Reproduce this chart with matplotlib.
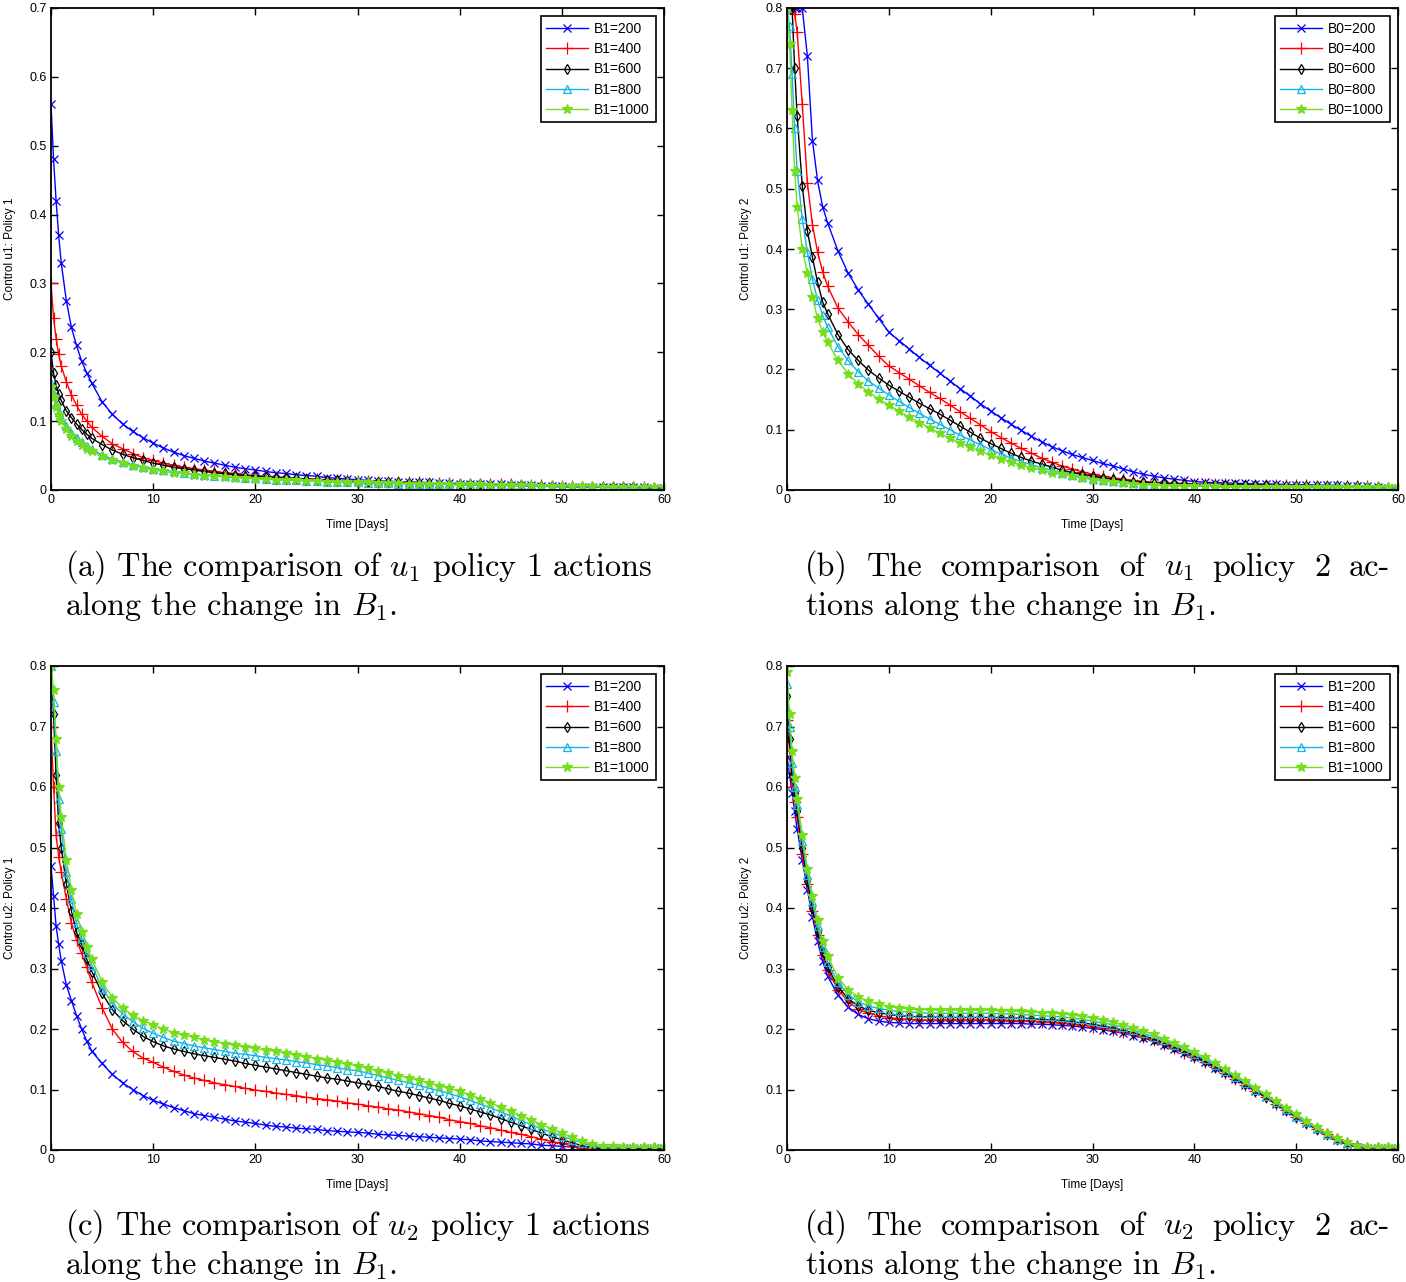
#!/usr/bin/env python3

import matplotlib
matplotlib.use("Agg")
import matplotlib.pyplot as plt
import numpy as np

W, H = 1406, 1282

plt.rcParams["font.family"] = ["Liberation Sans", "DejaVu Sans"]
plt.rcParams["mathtext.fontset"] = "cm"

# time grid [days], denser at the start
tDays = [0, 0.25, 0.5, 0.75, 1, 1.5, 2, 2.5, 3, 3.5, 4,
  5, 6, 7, 8, 9, 10, 11, 12, 13, 14,
  15, 16, 17, 18, 19, 20, 21, 22, 23, 24,
  25, 26, 27, 28, 29, 30, 31, 32, 33, 34,
  35, 36, 37, 38, 39, 40, 41, 42, 43, 44,
  45, 46, 47, 48, 49, 50, 51, 52, 53, 54,
  55, 56, 57, 58, 59, 60]

# (a) control u1, policy 1
u1Pol1B200 = [0.56, 0.48, 0.42, 0.37, 0.33, 0.275, 0.236, 0.21, 0.187, 0.17, 0.155,
  0.128, 0.110, 0.096, 0.085, 0.076, 0.068, 0.061, 0.055, 0.050, 0.046,
  0.042, 0.039, 0.036, 0.033, 0.031, 0.029, 0.027, 0.025, 0.024, 0.022,
  0.021, 0.020, 0.018, 0.017, 0.016, 0.015, 0.014, 0.013, 0.013, 0.012,
  0.012, 0.011, 0.011, 0.010, 0.010, 0.009, 0.009, 0.008, 0.008, 0.008,
  0.007, 0.007, 0.007, 0.006, 0.006, 0.006, 0.005, 0.005, 0.005, 0.005,
  0.004, 0.004, 0.004, 0.004, 0.003, 0.003]
u1Pol1B400 = [0.30, 0.25, 0.22, 0.197, 0.18, 0.157, 0.138, 0.123, 0.11, 0.10, 0.091,
  0.078, 0.067, 0.060, 0.053, 0.047, 0.043, 0.039, 0.036, 0.033, 0.031,
  0.029, 0.027, 0.025, 0.024, 0.022, 0.021, 0.020, 0.019, 0.018, 0.017,
  0.016, 0.016, 0.015, 0.014, 0.014, 0.013, 0.013, 0.012, 0.012, 0.011,
  0.011, 0.011, 0.010, 0.010, 0.010, 0.009, 0.009, 0.009, 0.008, 0.008,
  0.008, 0.007, 0.007, 0.007, 0.006, 0.006, 0.006, 0.005, 0.005, 0.005,
  0.005, 0.004, 0.004, 0.004, 0.003, 0.003]
u1Pol1B600 = [0.20, 0.17, 0.152, 0.14, 0.13, 0.115, 0.105, 0.096, 0.088, 0.081, 0.075,
  0.066, 0.058, 0.052, 0.047, 0.043, 0.039, 0.036, 0.033, 0.031, 0.029,
  0.027, 0.025, 0.024, 0.022, 0.021, 0.020, 0.019, 0.018, 0.017, 0.017,
  0.016, 0.015, 0.014, 0.014, 0.013, 0.012, 0.012, 0.011, 0.011, 0.011,
  0.010, 0.010, 0.010, 0.009, 0.009, 0.008, 0.008, 0.008, 0.007, 0.007,
  0.007, 0.007, 0.006, 0.006, 0.006, 0.005, 0.005, 0.005, 0.005, 0.004,
  0.004, 0.004, 0.004, 0.003, 0.003, 0.003]
u1Pol1B800 = [0.155, 0.14, 0.125, 0.114, 0.105, 0.093, 0.083, 0.075, 0.069, 0.064, 0.059,
  0.051, 0.045, 0.041, 0.037, 0.034, 0.031, 0.029, 0.027, 0.025, 0.023,
  0.022, 0.021, 0.020, 0.019, 0.018, 0.017, 0.016, 0.015, 0.015, 0.014,
  0.013, 0.013, 0.012, 0.012, 0.011, 0.011, 0.010, 0.010, 0.010, 0.009,
  0.009, 0.009, 0.008, 0.008, 0.008, 0.007, 0.007, 0.007, 0.006, 0.006,
  0.006, 0.006, 0.005, 0.005, 0.005, 0.004, 0.004, 0.004, 0.004, 0.004,
  0.003, 0.003, 0.003, 0.003, 0.003, 0.003]
u1Pol1B1000 = [0.15, 0.135, 0.12, 0.109, 0.10, 0.088, 0.078, 0.071, 0.065, 0.060, 0.056,
  0.049, 0.043, 0.039, 0.035, 0.032, 0.029, 0.027, 0.025, 0.024, 0.022,
  0.021, 0.020, 0.019, 0.018, 0.017, 0.016, 0.016, 0.015, 0.014, 0.014,
  0.013, 0.013, 0.012, 0.012, 0.011, 0.011, 0.011, 0.010, 0.010, 0.010,
  0.009, 0.009, 0.009, 0.009, 0.008, 0.008, 0.008, 0.008, 0.007, 0.007,
  0.007, 0.007, 0.007, 0.006, 0.006, 0.006, 0.006, 0.006, 0.006, 0.005,
  0.005, 0.005, 0.005, 0.005, 0.005, 0.005]

# (b) control u1, policy 2
u1Pol2B200 = [0.80, 0.80, 0.80, 0.80, 0.80, 0.80, 0.72, 0.58, 0.514, 0.47, 0.443,
  0.397, 0.360, 0.332, 0.308, 0.285, 0.262, 0.248, 0.234, 0.220, 0.207,
  0.194, 0.181, 0.168, 0.156, 0.143, 0.131, 0.120, 0.109, 0.099, 0.089,
  0.080, 0.072, 0.065, 0.059, 0.054, 0.049, 0.044, 0.040, 0.035, 0.030,
  0.026, 0.023, 0.020, 0.018, 0.016, 0.014, 0.013, 0.012, 0.012, 0.011,
  0.011, 0.010, 0.010, 0.010, 0.009, 0.009, 0.009, 0.008, 0.008, 0.008,
  0.007, 0.007, 0.006, 0.005, 0.004, 0.003]
u1Pol2B400 = [0.80, 0.80, 0.80, 0.79, 0.76, 0.64, 0.51, 0.44, 0.395, 0.362, 0.338,
  0.302, 0.279, 0.258, 0.240, 0.222, 0.206, 0.195, 0.184, 0.173, 0.162,
  0.152, 0.141, 0.130, 0.119, 0.108, 0.097, 0.087, 0.078, 0.069, 0.061,
  0.053, 0.046, 0.040, 0.035, 0.030, 0.026, 0.023, 0.020, 0.018, 0.016,
  0.014, 0.013, 0.012, 0.011, 0.011, 0.010, 0.010, 0.010, 0.010, 0.009,
  0.009, 0.009, 0.009, 0.008, 0.008, 0.008, 0.008, 0.007, 0.007, 0.007,
  0.007, 0.007, 0.006, 0.005, 0.004, 0.003]
u1Pol2B600 = [0.80, 0.80, 0.80, 0.70, 0.62, 0.505, 0.43, 0.386, 0.345, 0.312, 0.292,
  0.258, 0.233, 0.215, 0.199, 0.186, 0.174, 0.164, 0.154, 0.144, 0.135,
  0.126, 0.116, 0.106, 0.096, 0.086, 0.077, 0.069, 0.061, 0.054, 0.048,
  0.043, 0.038, 0.033, 0.029, 0.026, 0.023, 0.020, 0.018, 0.016, 0.014,
  0.013, 0.012, 0.011, 0.010, 0.010, 0.009, 0.009, 0.009, 0.008, 0.008,
  0.008, 0.008, 0.008, 0.007, 0.007, 0.007, 0.007, 0.007, 0.006, 0.006,
  0.006, 0.006, 0.005, 0.005, 0.004, 0.003]
u1Pol2B800 = [0.80, 0.77, 0.69, 0.60, 0.53, 0.45, 0.395, 0.35, 0.315, 0.29, 0.27,
  0.238, 0.215, 0.196, 0.181, 0.169, 0.158, 0.147, 0.137, 0.127, 0.118,
  0.109, 0.100, 0.091, 0.083, 0.075, 0.067, 0.060, 0.053, 0.047, 0.042,
  0.037, 0.033, 0.029, 0.025, 0.022, 0.019, 0.017, 0.015, 0.013, 0.011,
  0.010, 0.009, 0.008, 0.008, 0.007, 0.007, 0.007, 0.006, 0.006, 0.006,
  0.006, 0.005, 0.005, 0.005, 0.005, 0.005, 0.004, 0.004, 0.004, 0.004,
  0.004, 0.004, 0.003, 0.003, 0.003, 0.003]
u1Pol2B1000 = [0.80, 0.74, 0.63, 0.53, 0.47, 0.40, 0.36, 0.32, 0.285, 0.262, 0.245,
  0.215, 0.193, 0.176, 0.163, 0.151, 0.141, 0.131, 0.121, 0.112, 0.103,
  0.094, 0.086, 0.078, 0.071, 0.064, 0.058, 0.052, 0.046, 0.041, 0.037,
  0.033, 0.029, 0.026, 0.023, 0.020, 0.017, 0.015, 0.013, 0.011, 0.010,
  0.009, 0.008, 0.007, 0.007, 0.006, 0.006, 0.006, 0.006, 0.005, 0.005,
  0.005, 0.005, 0.005, 0.005, 0.005, 0.005, 0.005, 0.005, 0.005, 0.005,
  0.005, 0.005, 0.005, 0.005, 0.005, 0.005]

# (c) control u2, policy 1
u2Pol1B200 = [0.47, 0.42, 0.37, 0.34, 0.313, 0.273, 0.247, 0.222, 0.20, 0.18, 0.163,
  0.143, 0.125, 0.111, 0.100, 0.090, 0.082, 0.076, 0.070, 0.065, 0.060,
  0.057, 0.054, 0.051, 0.048, 0.046, 0.044, 0.041, 0.039, 0.038, 0.036,
  0.035, 0.034, 0.032, 0.031, 0.030, 0.029, 0.028, 0.026, 0.025, 0.024,
  0.023, 0.022, 0.021, 0.020, 0.019, 0.018, 0.017, 0.015, 0.014, 0.013,
  0.012, 0.011, 0.010, 0.008, 0.007, 0.006, 0.005, 0.004, 0.003, 0.003,
  0.003, 0.003, 0.003, 0.003, 0.003, 0.003]
u2Pol1B400 = [0.70, 0.60, 0.52, 0.485, 0.46, 0.415, 0.375, 0.347, 0.325, 0.302, 0.277,
  0.235, 0.200, 0.178, 0.163, 0.152, 0.145, 0.137, 0.130, 0.124, 0.119,
  0.115, 0.111, 0.108, 0.105, 0.102, 0.099, 0.097, 0.094, 0.092, 0.090,
  0.087, 0.085, 0.083, 0.081, 0.078, 0.076, 0.073, 0.071, 0.068, 0.066,
  0.063, 0.060, 0.057, 0.054, 0.050, 0.047, 0.044, 0.040, 0.037, 0.033,
  0.029, 0.026, 0.022, 0.018, 0.014, 0.011, 0.007, 0.004, 0.002, 0.001,
  0.000, 0.000, 0.001, 0.002, 0.003, 0.003]
u2Pol1B600 = [0.80, 0.72, 0.62, 0.54, 0.50, 0.44, 0.395, 0.36, 0.34, 0.315, 0.295,
  0.259, 0.232, 0.214, 0.200, 0.188, 0.179, 0.172, 0.167, 0.163, 0.159,
  0.156, 0.153, 0.150, 0.147, 0.143, 0.140, 0.137, 0.134, 0.131, 0.128,
  0.125, 0.122, 0.119, 0.117, 0.114, 0.111, 0.108, 0.105, 0.101, 0.097,
  0.094, 0.090, 0.086, 0.082, 0.077, 0.073, 0.068, 0.063, 0.058, 0.052,
  0.046, 0.040, 0.034, 0.028, 0.022, 0.017, 0.012, 0.007, 0.004, 0.002,
  0.002, 0.003, 0.003, 0.003, 0.003, 0.003]
u2Pol1B800 = [0.80, 0.74, 0.66, 0.58, 0.53, 0.46, 0.415, 0.375, 0.35, 0.325, 0.305,
  0.268, 0.242, 0.225, 0.212, 0.201, 0.193, 0.186, 0.180, 0.176, 0.172,
  0.169, 0.166, 0.163, 0.160, 0.158, 0.156, 0.153, 0.151, 0.149, 0.146,
  0.144, 0.141, 0.139, 0.136, 0.133, 0.131, 0.127, 0.123, 0.119, 0.115,
  0.111, 0.107, 0.102, 0.098, 0.093, 0.088, 0.082, 0.076, 0.070, 0.063,
  0.056, 0.049, 0.042, 0.035, 0.029, 0.023, 0.017, 0.012, 0.007, 0.004,
  0.003, 0.004, 0.004, 0.004, 0.004, 0.004]
u2Pol1B1000 = [0.80, 0.76, 0.68, 0.60, 0.55, 0.48, 0.43, 0.39, 0.36, 0.335, 0.315,
  0.278, 0.252, 0.235, 0.223, 0.214, 0.207, 0.200, 0.194, 0.190, 0.186,
  0.182, 0.179, 0.176, 0.173, 0.170, 0.168, 0.165, 0.163, 0.160, 0.157,
  0.154, 0.151, 0.148, 0.145, 0.142, 0.139, 0.135, 0.131, 0.127, 0.123,
  0.119, 0.115, 0.111, 0.106, 0.102, 0.097, 0.091, 0.085, 0.078, 0.071,
  0.064, 0.057, 0.050, 0.042, 0.035, 0.028, 0.021, 0.015, 0.010, 0.007,
  0.006, 0.005, 0.005, 0.005, 0.005, 0.005]

# (d) control u2, policy 2
u2Pol2B200 = [0.65, 0.62, 0.59, 0.56, 0.53, 0.48, 0.43, 0.385, 0.345, 0.312, 0.287,
  0.256, 0.236, 0.224, 0.217, 0.213, 0.211, 0.210, 0.209, 0.209, 0.209,
  0.209, 0.209, 0.209, 0.209, 0.209, 0.209, 0.209, 0.209, 0.209, 0.208,
  0.208, 0.207, 0.206, 0.205, 0.203, 0.201, 0.199, 0.196, 0.193, 0.189,
  0.185, 0.180, 0.174, 0.167, 0.160, 0.153, 0.145, 0.136, 0.127, 0.117,
  0.107, 0.097, 0.087, 0.076, 0.065, 0.054, 0.044, 0.034, 0.025, 0.017,
  0.010, 0.005, 0.003, 0.003, 0.003, 0.003]
u2Pol2B400 = [0.71, 0.66, 0.60, 0.575, 0.55, 0.49, 0.44, 0.395, 0.355, 0.322, 0.297,
  0.265, 0.245, 0.233, 0.226, 0.222, 0.219, 0.217, 0.216, 0.215, 0.215,
  0.215, 0.215, 0.215, 0.215, 0.215, 0.215, 0.215, 0.214, 0.214, 0.213,
  0.212, 0.211, 0.210, 0.208, 0.206, 0.204, 0.202, 0.199, 0.195, 0.191,
  0.186, 0.181, 0.175, 0.168, 0.161, 0.154, 0.146, 0.137, 0.128, 0.118,
  0.108, 0.098, 0.087, 0.076, 0.066, 0.055, 0.045, 0.035, 0.026, 0.018,
  0.011, 0.006, 0.004, 0.004, 0.004, 0.004]
u2Pol2B600 = [0.75, 0.68, 0.62, 0.59, 0.56, 0.50, 0.445, 0.40, 0.36, 0.327, 0.302,
  0.270, 0.250, 0.238, 0.231, 0.227, 0.224, 0.222, 0.221, 0.220, 0.220,
  0.219, 0.219, 0.219, 0.219, 0.219, 0.219, 0.219, 0.218, 0.218, 0.217,
  0.216, 0.215, 0.214, 0.212, 0.210, 0.208, 0.205, 0.202, 0.198, 0.194,
  0.189, 0.183, 0.177, 0.170, 0.163, 0.156, 0.147, 0.138, 0.129, 0.119,
  0.109, 0.098, 0.088, 0.077, 0.066, 0.055, 0.045, 0.035, 0.026, 0.018,
  0.011, 0.006, 0.004, 0.004, 0.004, 0.004]
u2Pol2B800 = [0.77, 0.70, 0.64, 0.60, 0.57, 0.51, 0.455, 0.41, 0.37, 0.335, 0.31,
  0.277, 0.257, 0.245, 0.238, 0.234, 0.231, 0.229, 0.228, 0.227, 0.226,
  0.226, 0.226, 0.226, 0.226, 0.226, 0.226, 0.225, 0.225, 0.224, 0.223,
  0.222, 0.221, 0.220, 0.218, 0.216, 0.213, 0.210, 0.207, 0.203, 0.198,
  0.193, 0.187, 0.181, 0.174, 0.167, 0.159, 0.150, 0.141, 0.131, 0.121,
  0.111, 0.100, 0.090, 0.079, 0.068, 0.057, 0.046, 0.036, 0.027, 0.019,
  0.012, 0.006, 0.004, 0.004, 0.004, 0.004]
u2Pol2B1000 = [0.79, 0.72, 0.66, 0.615, 0.58, 0.52, 0.465, 0.42, 0.38, 0.345, 0.32,
  0.285, 0.265, 0.253, 0.246, 0.241, 0.237, 0.235, 0.233, 0.232, 0.232,
  0.231, 0.231, 0.231, 0.231, 0.231, 0.231, 0.230, 0.230, 0.229, 0.228,
  0.227, 0.226, 0.225, 0.223, 0.221, 0.218, 0.215, 0.211, 0.207, 0.202,
  0.197, 0.191, 0.184, 0.177, 0.170, 0.162, 0.153, 0.144, 0.134, 0.124,
  0.114, 0.103, 0.092, 0.081, 0.070, 0.059, 0.048, 0.038, 0.028, 0.020,
  0.013, 0.007, 0.005, 0.005, 0.005, 0.005]

bValues = [200, 400, 600, 800, 1000]
xTicks = [0, 10, 20, 30, 40, 50, 60]
yTicks07 = [0, 0.1, 0.2, 0.3, 0.4, 0.5, 0.6, 0.7]
yTickLabels07 = ["0", "0.1", "0.2", "0.3", "0.4", "0.5", "0.6", "0.7"]
yTicks08 = [0, 0.1, 0.2, 0.3, 0.4, 0.5, 0.6, 0.7, 0.8]
yTickLabels08 = ["0", "0.1", "0.2", "0.3", "0.4", "0.5", "0.6", "0.7", "0.8"]

# matlab-ish line styles: color, marker, size, open face
styleList = [
  ("#0000ff", "x", 5.5, False),
  ("#ff0000", "+", 9, False),
  ("#000000", "d", 5, True),
  ("#12b5ea", "^", 5.5, True),
  ("#74dd1c", "*", 7, False),
]

tickSize = 9
labelSize = 8.5
legendSize = 10
captionSize = 23.2


def pxRect(left, top, right, bottom):
  return [left / W, 1 - bottom / H, (right - left) / W, (bottom - top) / H]


def plotPanel(fig, rect, seriesList, legendKey, yLabel, yTicks, yTickLabels):
  ax = fig.add_axes(rect)
  for vals, b, (color, marker, ms, hollow) in zip(seriesList, bValues, styleList):
    ax.plot(
      tDays, vals, color=color, marker=marker, markersize=ms, linewidth=1.0,
      markeredgewidth=0.9, markerfacecolor="none" if hollow else color,
      label=f"{legendKey}={b}",
    )

  ax.set_xlim(0, 60)
  ax.set_ylim(0, yTicks[-1])
  ax.set_xticks(xTicks, labels=[str(x) for x in xTicks])
  ax.set_yticks(yTicks, labels=yTickLabels)
  ax.tick_params(
    direction="in", top=True, right=True, length=5, width=1.0,
    labelsize=tickSize, pad=3,
  )
  for spine in ax.spines.values():
    spine.set_linewidth(1.3)

  ax.set_xlabel("Time [Days]", fontsize=labelSize, labelpad=9)
  ax.set_ylabel(yLabel, fontsize=labelSize, labelpad=10)

  leg = ax.legend(
    loc="upper right", fontsize=legendSize, fancybox=False, framealpha=1,
    edgecolor="black", borderaxespad=0.6, handlelength=3.0, numpoints=1,
    labelspacing=0.45, borderpad=0.4, handletextpad=0.45,
  )
  leg.get_frame().set_linewidth(1.2)
  return ax


def drawCaption(fig, x0, baseline, lines, width=None):
  renderer = fig.canvas.get_renderer()
  step = 39
  for i, line in enumerate(lines):
    y = 1 - (baseline + i * step) / H
    kw = dict(fontsize=captionSize, family="cmr10", va="baseline", ha="left")
    if width is None or i == len(lines) - 1:
      fig.text(x0 / W, y, line, **kw)
      continue
    # justified line: spread the words over the full width
    words = line.split(" ")
    texts = [fig.text(0, y, w, **kw) for w in words]
    widths = [t.get_window_extent(renderer).width for t in texts]
    gap = (width - sum(widths)) / (len(words) - 1)
    x = x0
    for t, w in zip(texts, widths):
      t.set_x(x / W)
      x += w + gap


fig = plt.figure(figsize=(W / 100, H / 100), dpi=100)

plotPanel(
  fig, pxRect(51, 8, 664, 490),
  [u1Pol1B200, u1Pol1B400, u1Pol1B600, u1Pol1B800, u1Pol1B1000],
  "B1", "Control u1: Policy 1", yTicks07, yTickLabels07,
)
plotPanel(
  fig, pxRect(787, 8, 1398, 490),
  [u1Pol2B200, u1Pol2B400, u1Pol2B600, u1Pol2B800, u1Pol2B1000],
  "B0", "Control u1: Policy 2", yTicks08, yTickLabels08,
)
plotPanel(
  fig, pxRect(51, 666, 664, 1150),
  [u2Pol1B200, u2Pol1B400, u2Pol1B600, u2Pol1B800, u2Pol1B1000],
  "B1", "Control u2: Policy 1", yTicks08, yTickLabels08,
)
plotPanel(
  fig, pxRect(787, 666, 1398, 1150),
  [u2Pol2B200, u2Pol2B400, u2Pol2B600, u2Pol2B800, u2Pol2B1000],
  "B1", "Control u2: Policy 2", yTicks08, yTickLabels08,
)

drawCaption(fig, 65, 576, [
  "(a) The comparison of $u_1$ policy 1 actions",
  "along the change in $B_1$.",
])
drawCaption(fig, 805, 576, [
  "(b) The comparison of $u_1$ policy 2 ac-",
  "tions along the change in $B_1$.",
], width=585)
drawCaption(fig, 65, 1235, [
  "(c) The comparison of $u_2$ policy 1 actions",
  "along the change in $B_1$.",
])
drawCaption(fig, 805, 1235, [
  "(d) The comparison of $u_2$ policy 2 ac-",
  "tions along the change in $B_1$.",
], width=585)

fig.savefig("out.png", dpi=100)
